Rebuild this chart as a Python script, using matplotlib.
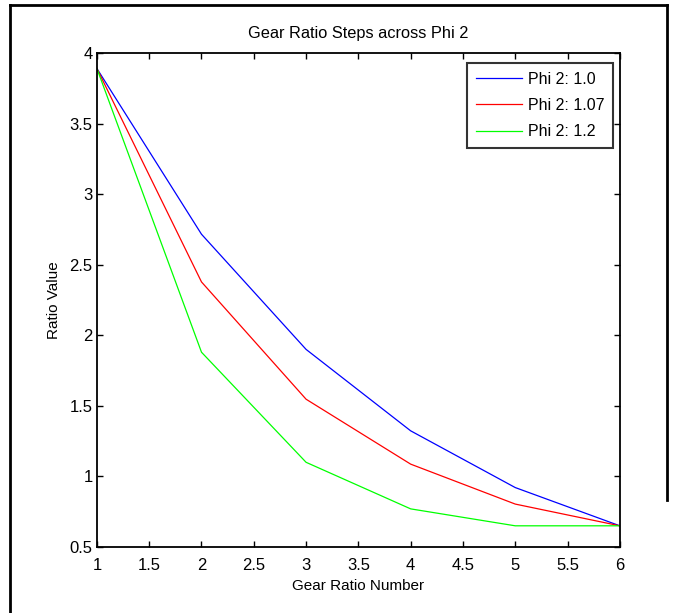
import matplotlib
matplotlib.use("Agg")
import matplotlib.pyplot as plt
from matplotlib.lines import Line2D

plt.rcParams['font.family'] = ['Liberation Sans', 'DejaVu Sans']

gear_numbers = [1, 2, 3, 4, 5, 6]
ratios_phi_100 = [3.89, 2.716, 1.90, 1.323, 0.921, 0.65]
ratios_phi_107 = [3.89, 2.378, 1.547, 1.087, 0.804, 0.65]
ratios_phi_120 = [3.89, 1.88, 1.10, 0.77, 0.65, 0.65]
series_labels = ['Phi 2: 1.0', 'Phi 2: 1.07', 'Phi 2: 1.2']
series_colors = ['#0000ff', '#ff0000', '#00ff00']

x_ticks = [1, 1.5, 2, 2.5, 3, 3.5, 4, 4.5, 5, 5.5, 6]
x_tick_labels = ['1', '1.5', '2', '2.5', '3', '3.5', '4', '4.5', '5', '5.5', '6']
y_ticks = [0.5, 1, 1.5, 2, 2.5, 3, 3.5, 4]
y_tick_labels = ['0.5', '1', '1.5', '2', '2.5', '3', '3.5', '4']

fig = plt.figure(figsize=(6.73, 6.13), dpi=100)
ax = fig.add_axes([0.144, 0.1077, 0.777, 0.8058])

for vals, lab, col in zip([ratios_phi_100, ratios_phi_107, ratios_phi_120],
                          series_labels, series_colors):
    ax.plot(gear_numbers, vals, color=col, lw=0.9, label=lab)

ax.set_xlim(1, 6)
ax.set_ylim(0.5, 4)
ax.set_xticks(x_ticks)
ax.set_xticklabels(x_tick_labels)
ax.set_yticks(y_ticks)
ax.set_yticklabels(y_tick_labels)
ax.tick_params(direction='in', length=4, width=1, top=True, right=True,
               labelsize=12, colors='black')
ax.tick_params(axis='x', pad=8)
ax.tick_params(axis='y', pad=3)
for sp in ax.spines.values():
    sp.set_linewidth(1.3)

ax.set_title('Gear Ratio Steps across Phi 2', fontsize=11.8, pad=11)
ax.set_xlabel('Gear Ratio Number', fontsize=11, labelpad=4)
ax.set_ylabel('Ratio Value', fontsize=11, labelpad=6)

leg = ax.legend(loc='upper right', fontsize=11.5, frameon=True, fancybox=False,
                borderpad=0.55, handlelength=2.9, handletextpad=0.35,
                labelspacing=0.7, borderaxespad=0,
                bbox_to_anchor=(0.9866, 0.9798))
leg.get_frame().set_edgecolor('black')
leg.get_frame().set_linewidth(1.5)

# outer frame around the figure
fw, fh = 673, 613
for (x0, y0, x1, y1) in [(9.5, 5, 9.5, 613), (9.5, 5, 667, 5), (667, 5, 667, 500)]:
    fig.add_artist(Line2D([x0 / fw, x1 / fw], [1 - y0 / fh, 1 - y1 / fh],
                          color='black', lw=2, transform=fig.transFigure))

fig.savefig('out.png', dpi=100)
